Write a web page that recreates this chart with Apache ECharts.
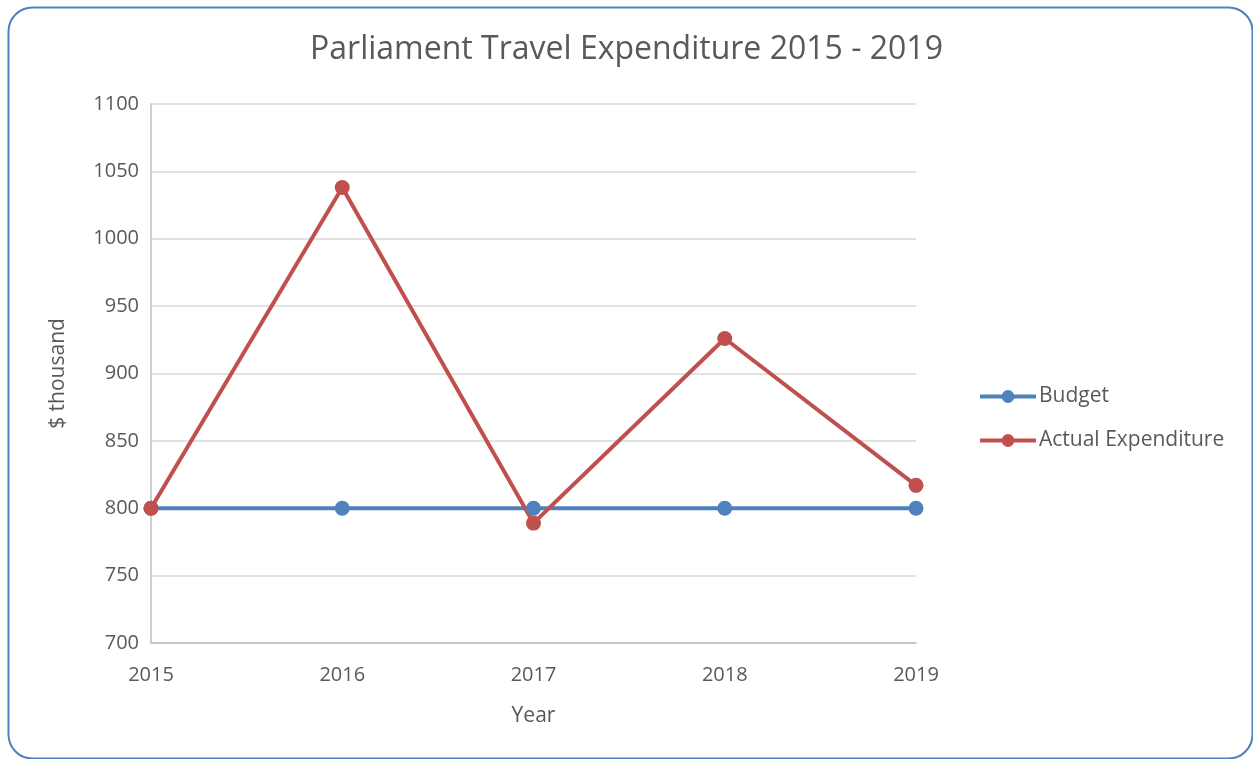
<!DOCTYPE html>
<html>
<head>
<meta charset="utf-8">
<title>Parliament Travel Expenditure 2015 - 2019</title>
<script src="https://cdn.jsdelivr.net/npm/echarts@6/dist/echarts.min.js"></script>
<style>
    html, body { margin: 0; padding: 0; background: #fff; }
    #chart { width: 1253px; height: 759px; }
</style>
</head>
<body>
<div id="chart"></div>
<script>
    // data
    var years = ['2015', '2016', '2017', '2018', '2019'];
    var budget = [800, 800, 800, 800, 800];
    var actual = [800, 1038, 789, 926, 817];

    var textColor = '#595959';
    var font = '"Open Sans", "Liberation Sans", sans-serif';

    var chart = echarts.init(document.getElementById('chart'));

    var option = {
        backgroundColor: '#fff',
        textStyle: { fontFamily: font, color: textColor },
        title: {
            text: 'Parliament Travel Expenditure 2015 - 2019',
            left: 'center',
            top: 29,
            textStyle: { fontFamily: font, fontSize: 32, fontWeight: 'normal', color: textColor }
        },
        legend: {
            orient: 'vertical',
            left: 973,
            top: 381,
            itemGap: 23,
            itemWidth: 56,
            itemHeight: 16,
            lineStyle: { width: 4 },
            textStyle: { fontFamily: font, fontSize: 21, color: textColor, padding: [0, 0, 0, -2] },
            data: ['Budget', 'Actual Expenditure']
        },
        grid: { left: 151, top: 104, width: 765, height: 539 },
        xAxis: {
            type: 'category',
            data: years,
            boundaryGap: false,
            name: 'Year',
            nameLocation: 'middle',
            nameGap: 63,
            nameTextStyle: { fontFamily: font, fontSize: 21, color: textColor },
            axisLine: { lineStyle: { color: '#BFBFBF', width: 1.5 } },
            axisTick: { show: false },
            axisLabel: { fontFamily: font, fontSize: 20, color: textColor, margin: 22 }
        },
        yAxis: {
            type: 'value',
            min: 700,
            max: 1100,
            interval: 50,
            name: '$ thousand',
            nameLocation: 'middle',
            nameGap: 82,
            nameTextStyle: { fontFamily: font, fontSize: 21, color: textColor },
            axisLine: { show: true, lineStyle: { color: '#BFBFBF', width: 1.5 } },
            axisTick: { show: false },
            axisLabel: {
                fontFamily: font, fontSize: 20, color: textColor, margin: 12,
                formatter: function (v) { return String(v); }
            },
            splitLine: { lineStyle: { color: '#D9D9D9', width: 1.5 } }
        },
        series: [
            {
                name: 'Budget',
                type: 'line',
                data: budget,
                symbol: 'circle',
                symbolSize: 15,
                color: '#4F81BD',
                lineStyle: { width: 4, color: '#4F81BD' },
                itemStyle: { color: '#4F81BD' },
                animation: false
            },
            {
                name: 'Actual Expenditure',
                type: 'line',
                data: actual,
                symbol: 'circle',
                symbolSize: 15,
                color: '#C0504D',
                lineStyle: { width: 4, color: '#C0504D' },
                itemStyle: { color: '#C0504D' },
                animation: false
            }
        ],
        graphic: [{
            type: 'rect',
            left: 6,
            top: 5,
            shape: { width: 1244, height: 751, r: 24 },
            style: { fill: 'none', stroke: '#4F81BD', lineWidth: 2 },
            silent: true,
            z: -1
        }]
    };

    chart.setOption(option);

    window.onresize = function () {
        chart.resize();
    };
</script>
</body>
</html>
